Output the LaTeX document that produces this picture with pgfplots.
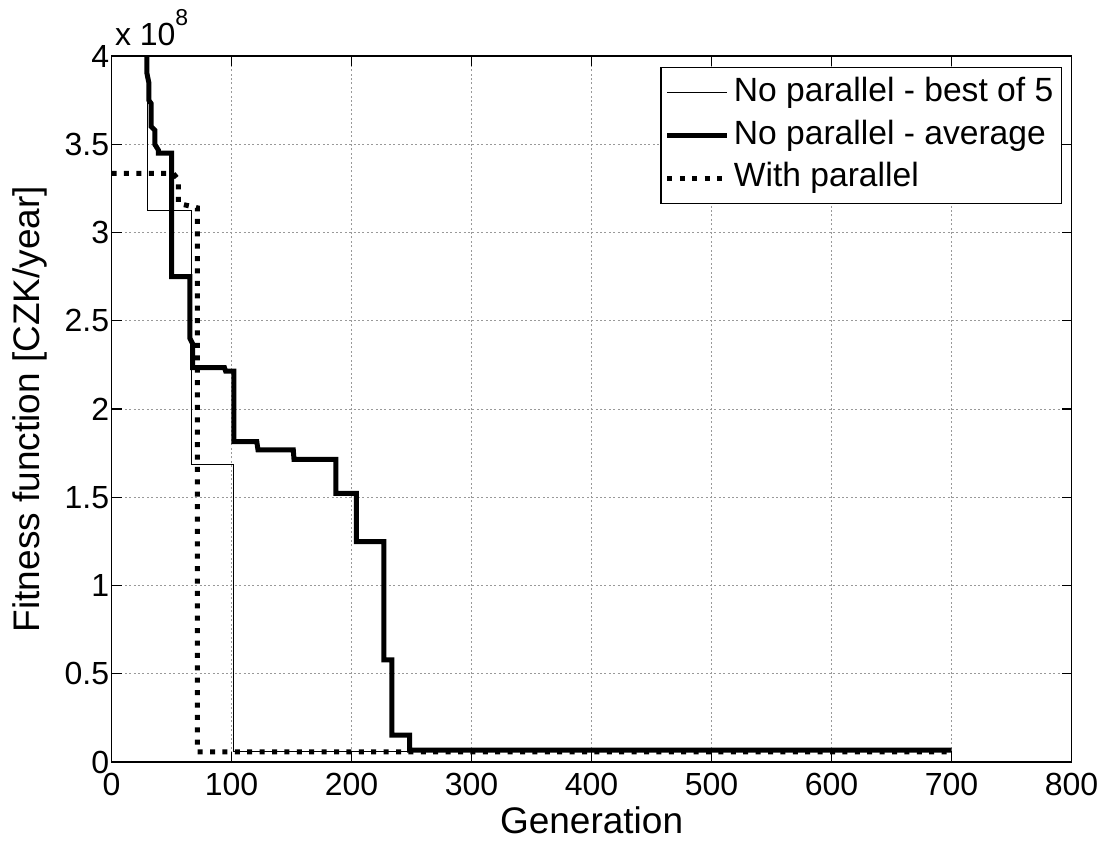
\documentclass[border=0pt]{standalone}
\usepackage{fontspec}
\setmainfont{Liberation Sans}
\usepackage{pgfplots}
\pgfplotsset{compat=1.18}

\begin{document}
\begin{tikzpicture}
\path[use as bounding box] (-55.8pt,-40.5pt) rectangle (498.2pt,381pt);
\begin{axis}[
    at={(0,0)}, anchor=south west,
    width=480pt, height=353pt, scale only axis,
    xmin=0, xmax=800, ymin=0, ymax=4,
    xtick={0,100,200,300,400,500,600,700,800},
    ytick={0,0.5,1,1.5,2,2.5,3,3.5,4},
    /pgf/number format/assume math mode=true,
    /pgf/number format/fixed,
    tick align=inside, tick pos=both, ticklabel pos=left,
    major tick length=5pt,
    tick style={black, line width=0.6pt},
    axis line style={black, line width=0.75pt},
    ticklabel style={font=\fontsize{16}{19}\selectfont},
    xticklabel style={yshift=-2pt},
    yticklabel style={xshift=2.3pt},
    grid=major,
    major grid style={black!40, line width=0.5pt, dash pattern=on 1pt off 1.2pt},
    xlabel={Generation},
    ylabel={Fitness function [CZK/year]},
    label style={font=\fontsize{18.5}{22}\selectfont},
    xlabel style={at={(axis description cs:0.5,-0.1011)}, anchor=base},
    ylabel style={at={(axis description cs:-0.075,0.5)}, anchor=base},
    legend style={at={(rel axis cs:1,1)}, anchor=north east, xshift=-4.85pt, yshift=-5.3pt,
        draw=black, line width=0.6pt, inner xsep=2pt, inner ysep=2pt,
        font=\fontsize{16.8}{20}\selectfont, row sep=0pt,
        nodes={inner sep=2pt, text height=13pt, text depth=4.4pt}},
    legend cell align=left,
    legend image code/.code={\draw[#1] (0pt,0pt) -- (30pt,0pt);},
]

\addplot[black, line width=0.5pt] coordinates {
    (0,5) (30,5) (30,3.124) (66.7,3.124) (66.7,1.687) (101.4,1.687) (101.4,0.06) (700,0.06)
};
\addlegendentry{No parallel - best of 5}

\addplot[black, line width=2.5pt] coordinates {
    (0,5) (29.5,5) (29.5,3.9) (31,3.85) (31,3.75) (33,3.73) (33,3.60) (36,3.58)
    (36,3.50) (39,3.467) (39,3.45) (50,3.45) (50,2.75) (65.3,2.75) (65.3,2.40)
    (67.5,2.37) (67.5,2.235) (94,2.235) (95,2.215) (102,2.215) (102,1.815)
    (121,1.815) (122,1.768) (151.4,1.768) (152,1.715) (187,1.715) (187,1.522)
    (204,1.522) (204,1.248) (227,1.248) (227,0.578) (233.5,0.578) (233.5,0.153)
    (248.4,0.153) (248.4,0.068) (700,0.068)
};
\addlegendentry{No parallel - average}

\addplot[black, line width=2.5pt, dash pattern=on 2.5pt off 3.7pt] coordinates {
    (0,3.335) (51.3,3.335) (55.6,3.30) (55.6,3.165) (71.4,3.14) (71.4,0.058) (700,0.058)
};
\addlegendentry{With parallel}

\end{axis}
\node[anchor=base west, inner sep=0pt, font=\fontsize{16}{19}\selectfont]
    at ([xshift=1.5pt,yshift=5.5pt]current axis.north west)
    {x 10\raisebox{10pt}{\fontsize{11.5}{12}\selectfont 8}};
\end{tikzpicture}
\end{document}
